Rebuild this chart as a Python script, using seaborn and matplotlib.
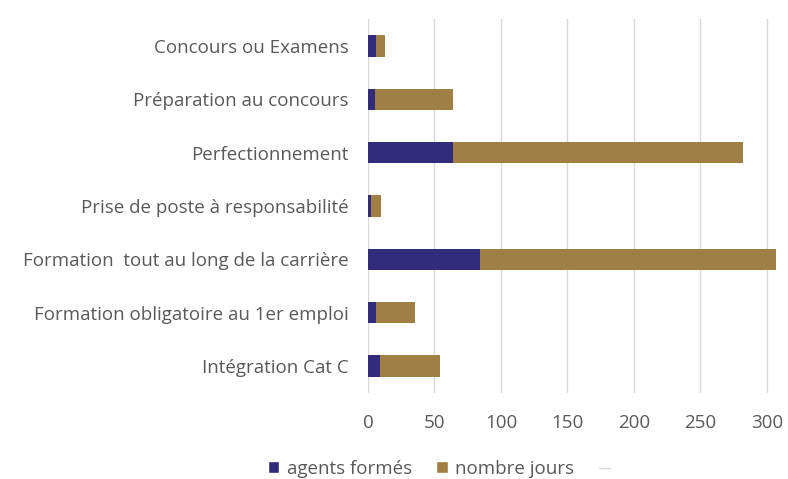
import matplotlib
matplotlib.use("Agg")
import matplotlib.pyplot as plt
import seaborn as sns
import pandas as pd
from matplotlib.lines import Line2D
from matplotlib.patches import Patch

categories = [
    "Concours ou Examens",
    "Préparation au concours",
    "Perfectionnement",
    "Prise de poste à responsabilité",
    "Formation  tout au long de la carrière",
    "Formation obligatoire au 1er emploi",
    "Intégration Cat C",
]
agents_formes = [6, 5, 64, 2, 84, 6, 9]
nombre_jours = [7, 59, 218, 8, 223, 29, 45]
x_ticks = [0, 50, 100, 150, 200, 250, 300]

blue = "#322B7C"
gold = "#A07F45"
text_color = "#595959"

sns.set_theme(style="white")
plt.rcParams['font.family'] = ['Open Sans', 'DejaVu Sans']

df = pd.DataFrame({"cat": categories, "agents": agents_formes, "jours": nombre_jours})
df["total"] = df["agents"] + df["jours"]

fig = plt.figure(figsize=(7.88, 4.79), dpi=100)
ax = fig.add_axes([0.467, 0.180, 0.523, 0.780])

sns.barplot(data=df, y="cat", x="total", color=gold, width=0.4, ax=ax, orient="h",
            saturation=1, edgecolor="none")
sns.barplot(data=df, y="cat", x="agents", color=blue, width=0.4, ax=ax, orient="h",
            saturation=1, edgecolor="none")

fs = 13.5
ax.set_xlim(0, 310)
ax.set_xticks(x_ticks)
ax.xaxis.grid(True, color="#D9D9D9", linewidth=1)
ax.set_axisbelow(True)
for s in ax.spines.values():
    s.set_visible(False)
ax.set_xlabel("")
ax.set_ylabel("")
ax.tick_params(axis="y", length=0, pad=14, labelsize=fs, labelcolor=text_color)
ax.tick_params(axis="x", length=0, pad=15, labelsize=fs, labelcolor=text_color)

handles = [Patch(facecolor=blue, label="agents formés"),
           Patch(facecolor=gold, label="nombre jours"),
           Line2D([0], [0], color="#D9D9D9", lw=1, label=" ")]
fig.legend(handles=handles, loc="center", bbox_to_anchor=(0.565, 0.021), ncol=3,
           frameon=False, fontsize=fs, labelcolor=text_color, handlelength=0.6,
           handleheight=0.6, handletextpad=0.4, columnspacing=1.3)

fig.savefig("out.png", dpi=100)
